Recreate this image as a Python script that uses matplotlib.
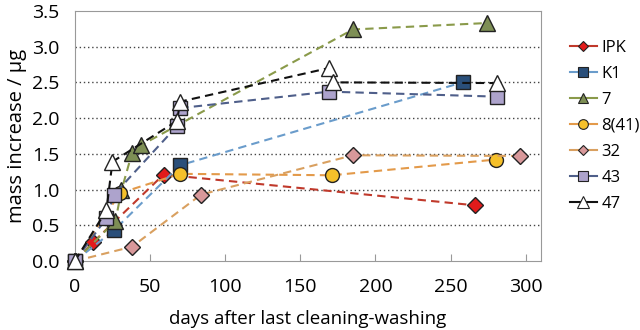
import matplotlib.pyplot as plt
from matplotlib.lines import Line2D

plt.rcParams['font.family'] = ['Open Sans', 'DejaVu Sans']

names = ['IPK', 'K1', '7', '8(41)', '32', '43', '47']
days = {
    'IPK':   [0, 12, 59, 266],
    'K1':    [0, 26, 70, 258],
    '7':     [0, 27, 31, 38, 44, 185, 274],
    '8(41)': [0, 30, 70, 171, 280],
    '32':    [0, 38, 84, 185, 296],
    '43':    [0, 21, 26, 68, 70, 169, 281],
    '47':    [0, 21, 25, 68, 70, 169, 172, 281],
}
mass = {
    'IPK':   [0, 0.26, 1.21, 0.78],
    'K1':    [0, 0.43, 1.34, 2.50],
    '7':     [0, 0.56, 0.99, 1.51, 1.62, 3.24, 3.33],
    '8(41)': [0, 0.95, 1.22, 1.20, 1.42],
    '32':    [0, 0.20, 0.93, 1.48, 1.47],
    '43':    [0, 0.60, 0.93, 1.89, 2.14, 2.37, 2.30],
    '47':    [0, 0.71, 1.39, 1.96, 2.23, 2.70, 2.50, 2.49],
}

line_colors = {'IPK': '#C0392B', 'K1': '#6A9CCB', '7': '#8A9A4A', '8(41)': '#E39A4A',
               '32': '#D9A060', '43': '#4F5F8A', '47': '#111111'}
face_colors = {'IPK': '#E21B1B', 'K1': '#2A4F7A', '7': '#7E8F55', '8(41)': '#F5C02A',
               '32': '#D8989A', '43': '#ADA3CC', '47': 'white'}
markers = {'IPK': 'D', 'K1': 's', '7': '^', '8(41)': 'o', '32': 'D', '43': 's', '47': '^'}
sizes = {'IPK': 8, 'K1': 10, '7': 11, '8(41)': 10, '32': 8, '43': 10, '47': 12}

fig = plt.figure(figsize=(6.4, 3.3), dpi=100)
ax = fig.add_axes([0.117, 0.209, 0.728, 0.758])

for n in names:
    ax.plot(days[n], mass[n], linestyle=(0, (4, 2.5)), color=line_colors[n], lw=1.5,
            marker=markers[n], markersize=sizes[n], markerfacecolor=face_colors[n],
            markeredgecolor='#222222', markeredgewidth=1, clip_on=False, zorder=3)

ax.set_xlim(0, 310)
ax.set_ylim(0, 3.5)
ax.set_xticks([0, 50, 100, 150, 200, 250, 300])
ax.set_yticks([0, 0.5, 1.0, 1.5, 2.0, 2.5, 3.0, 3.5])
ax.set_yticklabels(['0.0', '0.5', '1.0', '1.5', '2.0', '2.5', '3.0', '3.5'])
for y in [0.5, 1.0, 1.5, 2.0, 2.5, 3.0]:
    ax.axhline(y, color='#444444', lw=1, linestyle=(0, (1, 2)), zorder=1)
ax.tick_params(axis='x', direction='in', length=5, color='#999999', labelsize=14, pad=12)
ax.tick_params(axis='y', length=0, labelsize=14, pad=11)
for s in ax.spines.values():
    s.set_color('#999999')
ax.set_xlabel('days after last cleaning-washing', fontsize=13.5, labelpad=10)
ax.set_ylabel('mass increase / µg', fontsize=14.5, labelpad=4)

handles = [Line2D([], [], color=line_colors[n], lw=1.5, marker=markers[n],
                  markersize=sizes[n] * 0.7, markerfacecolor=face_colors[n],
                  markeredgecolor='#222222', markeredgewidth=0.8) for n in names]
fig.legend(handles, names, loc='upper left', bbox_to_anchor=(0.88, 0.9),
           frameon=False, fontsize=12, handlelength=1.6, handletextpad=0.3,
           labelspacing=0.6, borderaxespad=0)

fig.savefig('out.png', dpi=100)
